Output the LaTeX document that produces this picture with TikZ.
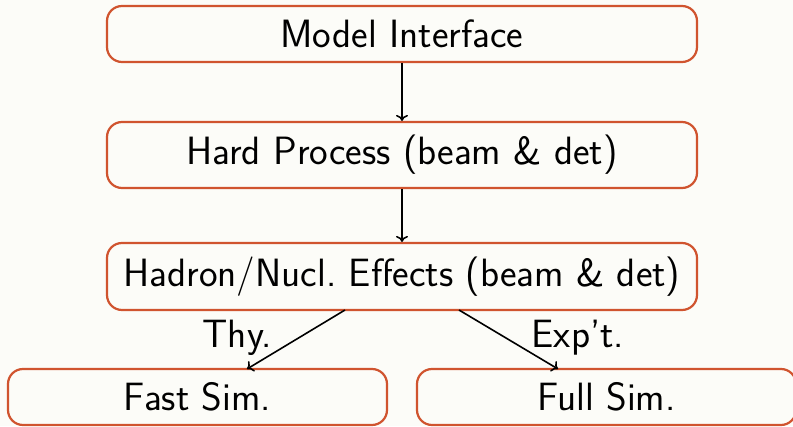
\documentclass[tikz,border=0pt]{standalone}
\usetikzlibrary{arrows.meta}
\definecolor{boxline}{HTML}{D0542F}
\definecolor{bgcol}{HTML}{FCFCF8}
\tikzset{
  stagebox/.style={draw=boxline, line width=2.2pt, rounded corners=15pt, rectangle,
    inner sep=0pt, font=\sffamily\fontsize{39.5}{47}\selectfont, text=black},
  flow/.style={draw=black, line width=1.6pt, -{To[length=6pt,width=12pt]}},
  lab/.style={font=\sffamily\fontsize{39.5}{47}\selectfont, inner sep=0pt}
}
\begin{document}
\begin{tikzpicture}[x=1pt,y=1pt]
\fill[bgcol] (0,0) rectangle (793,426);
\useasboundingbox (0,0) rectangle (793,426);
\begin{scope}
\clip (0,0) rectangle (793,426);
\node[stagebox, minimum width=590pt, minimum height=56pt] (model) at (402,392) {Model Interface};
\node[stagebox, minimum width=590pt, minimum height=66pt] (hard) at (402,271) {Hard Process (beam \& det)};
\node[stagebox, minimum width=590pt, minimum height=67pt] (hadron) at (402,149.5) {Hadron/Nucl.\ Effects (beam \& det)};
\node[stagebox, minimum width=379pt, minimum height=56pt] (fast) at (197.5,29) {Fast Sim.};
\node[stagebox, minimum width=379pt, minimum height=56pt] (full) at (606.5,29) {Full Sim.};
\coordinate (hl) at (345,116);
\coordinate (hr) at (459,116);
\coordinate (fl) at (247,57);
\coordinate (fr) at (558,57);
\draw[flow] (model.south) -- (hard.north);
\draw[flow] (hard.south) -- (hadron.north);
\draw[flow] (hl) -- (fl);
\draw[flow] (hr) -- (fr);
\node[lab] (thy) at (237,88) {Thy.};
\node[lab] (exp) at (578,88) {Exp't.};
\end{scope}
\end{tikzpicture}
\end{document}
